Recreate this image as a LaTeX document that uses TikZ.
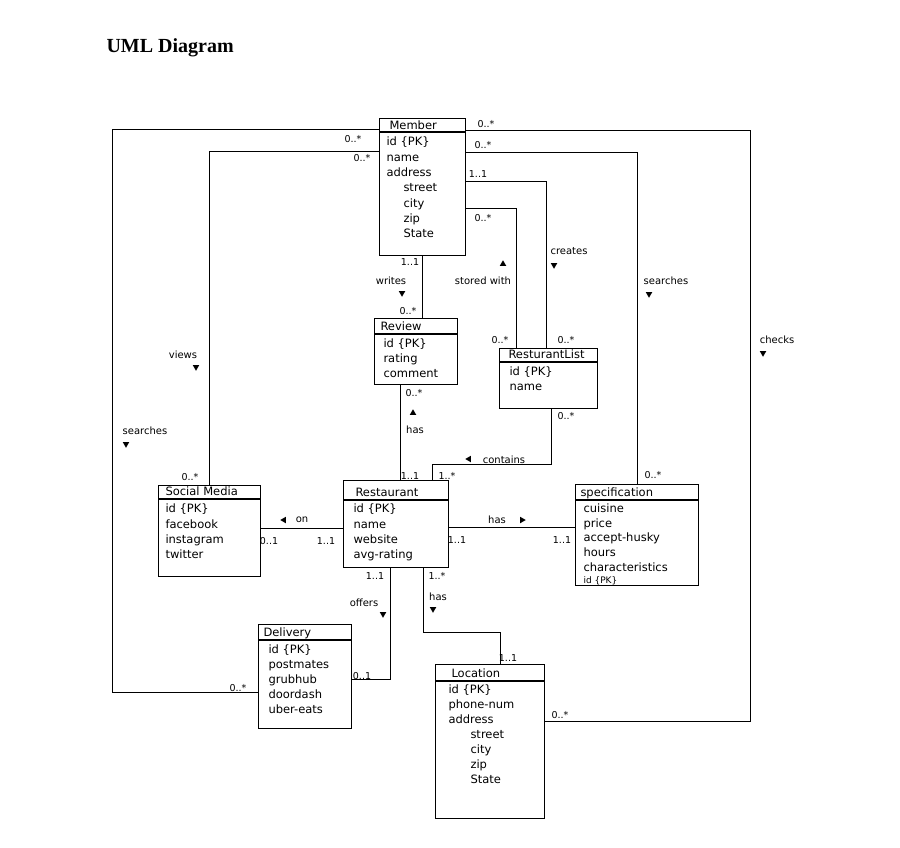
\documentclass[tikz,border=0pt]{standalone}
\usepackage{fontspec}
\setmainfont{DejaVu Sans}
\newfontfamily\titlefont{Liberation Serif}
\usetikzlibrary{calc,shapes.geometric}
\tikzset{>=latex}
\tikzset{
  umlbox/.style={draw, line width=1.2pt, anchor=north west, inner sep=0pt},
  attr/.style={anchor=west, inner sep=0pt, text height=7pt, text depth=2pt, font=\fontsize{11.5}{13}\selectfont},
  mult/.style={inner sep=0pt, font=\fontsize{9.5}{10}\selectfont},
  role/.style={inner sep=0pt, font=\fontsize{10}{11}\selectfont},
  tri/.style={regular polygon, regular polygon sides=3, fill, draw=none, inner sep=0pt, minimum size=7.5pt}
}

\begin{document}
\begin{tikzpicture}[x=1pt, y=-1pt, line width=1pt]
\useasboundingbox (0,0) rectangle (900,847);
\node[anchor=west, inner sep=0pt, font=\titlefont\bfseries\fontsize{20}{24}\selectfont] (title) at (106,48) {UML Diagram};

% the classes
\node[umlbox, minimum width=86, minimum height=137] (member) at (379,118) {};
\node[umlbox, minimum width=83, minimum height=66] (review) at (374,318) {};
\node[umlbox, minimum width=98, minimum height=60] (rlist) at (499,348) {};
\node[umlbox, minimum width=102, minimum height=91] (smedia) at (158,485) {};
\node[umlbox, minimum width=105, minimum height=87] (restaurant) at (343,480) {};
\node[umlbox, minimum width=123, minimum height=101] (spec) at (575,484) {};
\node[umlbox, minimum width=93, minimum height=104] (delivery) at (258,624) {};
\node[umlbox, minimum width=109, minimum height=154] (location) at (435,664) {};

\draw[line width=1.2pt] (member.west |- 0,132) -- (member.east |- 0,132);
\draw[line width=1.2pt] (review.west |- 0,334) -- (review.east |- 0,334);
\draw[line width=1.2pt] (rlist.west |- 0,362) -- (rlist.east |- 0,362);
\draw[line width=1.2pt] (smedia.west |- 0,499) -- (smedia.east |- 0,499);
\draw[line width=1.2pt] (restaurant.west |- 0,500) -- (restaurant.east |- 0,500);
\draw[line width=1.2pt] (spec.west |- 0,500) -- (spec.east |- 0,500);
\draw[line width=1.2pt] (delivery.west |- 0,640) -- (delivery.east |- 0,640);
\draw[line width=1.2pt] (location.west |- 0,681) -- (location.east |- 0,681);

% titles
\node[attr] (member-t) at (389,126.5) {Member};
\node[attr] (review-t) at (380,327.5) {Review};
\node[attr] (rlist-t) at (508,356) {ResturantList};
\node[attr] (smedia-t) at (165,493) {Social Media};
\node[attr] (restaurant-t) at (355,493.5) {Restaurant};
\node[attr] (spec-t) at (580,493.5) {specification};
\node[attr] (delivery-t) at (263,633.5) {Delivery};
\node[attr] (location-t) at (451,675) {Location};

% attributes
\foreach \t [count=\i] in {id \{PK\}, name, address}
  \node[attr] (member-\i) at (386,128+15.3*\i) {\t};
\foreach \t [count=\i from 4] in {street, city, zip, State}
  \node[attr] (member-\i) at (403,128+15.3*\i) {\t};
\foreach \t [count=\i] in {id \{PK\}, rating, comment}
  \node[attr] (review-\i) at (383,330+15*\i) {\t};
\foreach \t [count=\i] in {id \{PK\}, name}
  \node[attr] (rlist-\i) at (509,358+15*\i) {\t};
\foreach \t [count=\i] in {id \{PK\}, facebook, instagram, twitter}
  \node[attr] (smedia-\i) at (165,495+15.3*\i) {\t};
\foreach \t [count=\i] in {id \{PK\}, name, website, avg-rating}
  \node[attr] (restaurant-\i) at (353,495+15.3*\i) {\t};
\foreach \t [count=\i] in {cuisine, price, accept-husky, hours, characteristics}
  \node[attr] (spec-\i) at (583,495+14.8*\i) {\t};
\node[attr, font=\fontsize{9}{10}\selectfont] (spec-6) at (583,581) {id \{PK\}};
\foreach \t [count=\i] in {id \{PK\}, postmates, grubhub, doordash, uber-eats}
  \node[attr] (delivery-\i) at (268,636+15*\i) {\t};
\foreach \t [count=\i] in {id \{PK\}, phone-num, address}
  \node[attr] (location-\i) at (448,676+15*\i) {\t};
\foreach \t [count=\i from 4] in {street, city, zip, State}
  \node[attr] (location-\i) at (470,676+15*\i) {\t};

% associations
\draw (member.west |- 0,129) -| (112,692) -- (delivery.west |- 0,692);
\draw (member.west |- 0,151) -| (smedia.north);
\draw (member.east |- 0,130) -| (750,721) -- (location.east |- 0,721);
\draw (member.east |- 0,152) -| (spec.north);
\draw (member.east |- 0,181) -| (rlist.north -| 546,0);
\draw (member.east |- 0,208) -| (rlist.north -| 516,0);
\draw (member.south) -- (member.south |- review.north);
\draw (review.south -| 400,0) -- (restaurant.north -| 400,0);
\draw (rlist.south -| 551,0) |- (432,464) -- (restaurant.north -| 432,0);
\draw (smedia.east |- 0,528) -- (restaurant.west |- 0,528);
\draw (restaurant.east |- 0,527) -- (spec.west |- 0,527);
\draw (restaurant.south -| 390,0) |- (delivery.east |- 0,679);
\draw (restaurant.south -| 423,0) |- (500,632) -- (location.north -| 500,0);

% multiplicities
\node[mult] (ml1) at (353,139) {0..*};
\node[mult] (ml2) at (362,158) {0..*};
\node[mult] (mr1) at (486,124) {0..*};
\node[mult] (mr2) at (483,145) {0..*};
\node[mult] (mr3) at (478,174) {1..1};
\node[mult] (mr4) at (483,218) {0..*};
\node[mult] (mb) at (410,262) {1..1};
\node[mult] (rvt) at (408,311) {0..*};
\node[mult] (rvb) at (414,393) {0..*};
\node[mult] (rlt1) at (500,340) {0..*};
\node[mult] (rlt2) at (566,340) {0..*};
\node[mult] (rlb) at (566,416) {0..*};
\node[mult] (smt) at (190,477) {0..*};
\node[mult] (rst1) at (410,476) {1..1};
\node[mult] (rst2) at (447,476) {1..*};
\node[mult] (smr) at (269,541) {0..1};
\node[mult] (rsl) at (326,541) {1..1};
\node[mult] (rsr) at (457,540) {1..1};
\node[mult] (spl) at (562,540) {1..1};
\node[mult] (spt) at (653,475) {0..*};
\node[mult] (rsb1) at (375,576) {1..1};
\node[mult] (rsb2) at (437,576) {1..*};
\node[mult] (dvr) at (362,676) {0..1};
\node[mult] (dvl) at (238,688) {0..*};
\node[mult] (lct) at (508,658) {1..1};
\node[mult] (lcr) at (560,715) {0..*};

% roles
\node[role] (views) at (183,355) {views};
\node[tri, rotate=180] (views-a) at (196,367) {};
\node[role] (searches-l) at (145,431) {searches};
\node[tri, rotate=180] (searches-l-a) at (126,444) {};
\node[role] (writes) at (391,281) {writes};
\node[tri, rotate=180] (writes-a) at (402,293) {};
\node[role] (stored) at (483,281) {stored with};
\node[tri] (stored-a) at (503,264) {};
\node[role] (creates) at (569,251) {creates};
\node[tri, rotate=180] (creates-a) at (554,265) {};
\node[role] (searches-r) at (666,281) {searches};
\node[tri, rotate=180] (searches-r-a) at (649,294) {};
\node[role] (checks) at (777,340) {checks};
\node[tri, rotate=180] (checks-a) at (763,353) {};
\node[tri] (has-rv-a) at (413,413) {};
\node[role] (has-rv) at (415,430) {has};
\node[tri, rotate=90] (contains-a) at (469,459) {};
\node[role] (contains) at (504,460) {contains};
\node[tri, rotate=90] (on-a) at (284,520) {};
\node[role] (on) at (302,520) {on};
\node[role] (has-sp) at (497,520) {has};
\node[tri, rotate=-90] (has-sp-a) at (522,520) {};
\node[role] (offers) at (364,603) {offers};
\node[tri, rotate=180] (offers-a) at (383,614) {};
\node[role] (has-lc) at (438,597) {has};
\node[tri, rotate=180] (has-lc-a) at (433,609) {};
\end{tikzpicture}
\end{document}
